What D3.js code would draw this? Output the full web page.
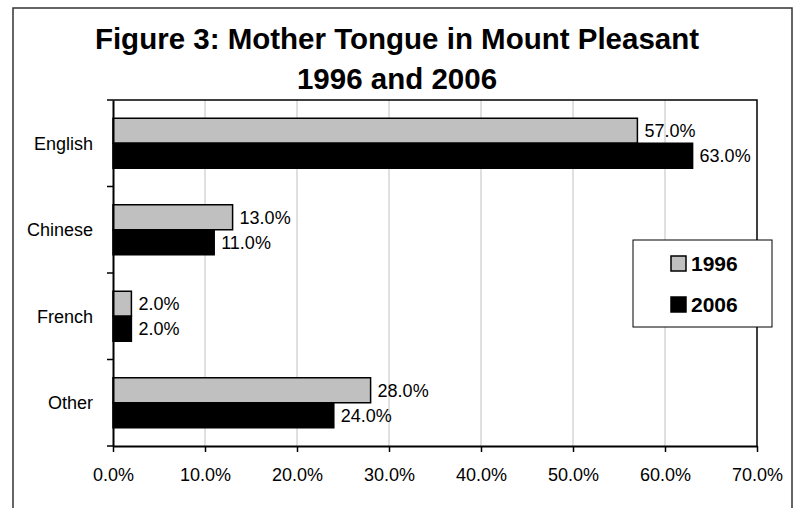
<!DOCTYPE html>
<meta charset="utf-8">
<style>
body { margin: 0; background: #fff; }
text { font-family: "Liberation Sans", Arial, sans-serif; fill: #000; }
.title { font-size: 29.5px; font-weight: bold; text-anchor: middle; }
.axis text { font-size: 18px; font-family: "Liberation Sans", Arial, sans-serif; }
.lbl { font-size: 18px; }
.leg text { font-size: 21px; font-weight: bold; }
</style>
<body>
<script src="https://cdn.jsdelivr.net/npm/d3@7"></script>
<script>

var categories = ["English", "Chinese", "French", "Other"];
var years = ["1996", "2006"];
var values1996 = [57, 13, 2, 28];
var values2006 = [63, 11, 2, 24];
var xTicks = [0, 10, 20, 30, 40, 50, 60, 70];
var colors = ["#c0c0c0", "#000000"];

var width = 794, height = 508;
var plotLeft = 113, plotTop = 100, plotRight = 757, plotBottom = 446;

var svg = d3.select("body").append("svg")
    .attr("width", width)
    .attr("height", height);

// outer frame (bottom runs off the page)
svg.append("path")
    .attr("d", "M13,520V8H792V520")
    .attr("fill", "none")
    .attr("stroke", "#333")
    .attr("stroke-width", 1.5);

svg.append("text").attr("class", "title")
    .attr("x", 397).attr("y", 49)
    .text("Figure 3: Mother Tongue in Mount Pleasant");
svg.append("text").attr("class", "title")
    .attr("x", 397).attr("y", 89)
    .text("1996 and 2006");

var x = d3.scaleLinear().domain([0, 70]).range([plotLeft, plotRight]);
var y = d3.scaleBand().domain(categories).range([plotTop, plotBottom]);
var inner = d3.scaleBand().domain(years).range([0, 50]);

// gridlines
svg.append("g").selectAll("line")
    .data(xTicks.slice(1, -1))
  .join("line")
    .attr("x1", function(d) { return x(d); })
    .attr("x2", function(d) { return x(d); })
    .attr("y1", plotTop).attr("y2", plotBottom)
    .attr("stroke", "#c0c0c0");

// plot area frame: top and right
svg.append("path")
    .attr("d", "M" + plotLeft + "," + plotTop + "H" + plotRight + "V" + plotBottom)
    .attr("fill", "none")
    .attr("stroke", "#000")
    .attr("stroke-width", 1.5);

var rows = categories.map(function(c, i) {
  return { cat: c, vals: [values1996[i], values2006[i]] };
});

var g = svg.append("g").selectAll("g")
    .data(rows)
  .join("g")
    .attr("transform", function(d) { return "translate(0," + (y(d.cat) + (y.bandwidth() - 50) / 2) + ")"; });

g.selectAll("rect")
    .data(function(d) { return d.vals; })
  .join("rect")
    .attr("x", x(0))
    .attr("y", function(d, i) { return inner(years[i]); })
    .attr("width", function(d) { return x(d) - x(0); })
    .attr("height", inner.bandwidth())
    .attr("fill", function(d, i) { return colors[i]; })
    .attr("stroke", "#000")
    .attr("stroke-width", 1.5);

g.selectAll("text")
    .data(function(d) { return d.vals; })
  .join("text")
    .attr("class", "lbl")
    .attr("x", function(d) { return x(d) + 7; })
    .attr("y", function(d, i) { return inner(years[i]) + inner.bandwidth() / 2; })
    .attr("dy", "0.35em")
    .text(function(d) { return d.toFixed(1) + "%"; });

// y axis
var yAxis = svg.append("g").attr("class", "axis")
    .attr("transform", "translate(" + plotLeft + ",0)")
    .call(d3.axisLeft(y).tickSize(0).tickPadding(20));
yAxis.select(".domain").attr("stroke-width", 2);
yAxis.selectAll("text").attr("dy", "0.35em");
yAxis.selectAll(".sep")
    .data(d3.range(categories.length + 1))
  .join("line")
    .attr("class", "sep")
    .attr("x1", -6).attr("x2", 0)
    .attr("y1", function(i) { return plotTop + i * y.step(); })
    .attr("y2", function(i) { return plotTop + i * y.step(); })
    .attr("stroke", "#000").attr("stroke-width", 1.5);

// x axis
var xAxis = svg.append("g").attr("class", "axis")
    .attr("transform", "translate(0," + plotBottom + ")")
    .call(d3.axisBottom(x).tickValues(xTicks).tickSize(6).tickSizeOuter(0).tickPadding(16)
      .tickFormat(function(d) { return d.toFixed(1) + "%"; }));
xAxis.select(".domain").attr("stroke-width", 2);
xAxis.selectAll(".tick line").attr("stroke-width", 1.5);

// legend
var leg = svg.append("g").attr("class", "leg");
leg.append("rect")
    .attr("x", 633).attr("y", 240).attr("width", 139).attr("height", 87)
    .attr("fill", "#fff").attr("stroke", "#000");
var li = leg.selectAll("g")
    .data(years)
  .join("g")
    .attr("transform", function(d, i) { return "translate(671," + (256 + i * 41) + ")"; });
li.append("rect")
    .attr("width", 15).attr("height", 15)
    .attr("fill", function(d, i) { return colors[i]; })
    .attr("stroke", "#000").attr("stroke-width", 1.5);
li.append("text")
    .attr("x", 20).attr("y", 15)
    .text(function(d) { return d; });

</script>
</body>
